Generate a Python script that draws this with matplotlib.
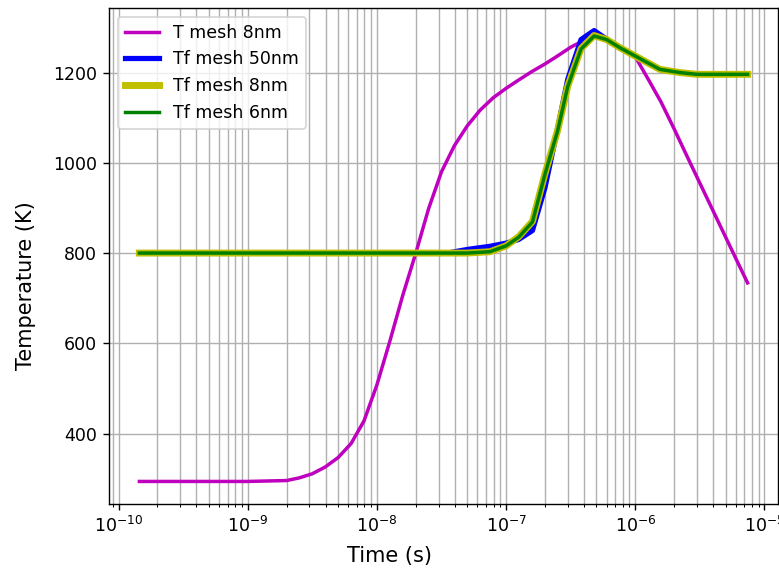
import numpy as np
import matplotlib
matplotlib.use('Agg')
import matplotlib.pyplot as plt

# temperature at the surface, 8nm mesh
t_T = [1.45e-10, 1e-9, 2.0e-9, 2.51e-9, 3.16e-9, 3.98e-9, 5.01e-9, 6.31e-9, 7.94e-9,
       1e-8, 1.26e-8, 1.58e-8, 2.0e-8, 2.51e-8, 3.16e-8, 3.98e-8, 5.01e-8, 6.31e-8,
       7.94e-8, 1e-7, 1.26e-7, 1.58e-7, 2.0e-7, 2.51e-7, 3.16e-7, 3.98e-7, 5.01e-7,
       6.31e-7, 7.94e-7, 1e-6, 1.26e-6, 1.58e-6, 2.0e-6, 2.51e-6, 3.16e-6, 3.98e-6,
       5.01e-6, 6.31e-6, 7.4e-6]
T_8nm = [294, 294, 296, 302, 311, 326, 347, 378, 428,
         508, 605, 705, 800, 898, 980, 1038, 1082, 1117,
         1144, 1165, 1184, 1202, 1219, 1237, 1256, 1271, 1280,
         1272, 1252, 1235, 1185, 1135, 1075, 1015, 955, 895,
         835, 775, 734]

# fictive temperature for three mesh sizes
t_Tf = [1.45e-10, 3.5e-8, 5e-8, 7.5e-8, 1e-7, 1.25e-7, 1.6e-7, 2e-7, 2.5e-7,
        3e-7, 3.8e-7, 4.8e-7, 6e-7, 7.6e-7, 1.15e-6, 1.55e-6, 2.2e-6, 3e-6, 7.4e-6]
Tf_50nm = [800, 800, 808, 815, 822, 830, 850, 945, 1075,
           1185, 1273, 1293, 1274, 1255, 1227, 1207, 1200, 1196, 1196]
Tf_8nm = [800, 800, 800, 803, 816, 836, 870, 976, 1071,
          1170, 1253, 1282, 1273, 1255, 1227, 1207, 1200, 1196, 1196]
Tf_6nm = [800, 800, 800, 803, 816, 835, 869, 975, 1070,
          1169, 1252, 1281, 1273, 1255, 1227, 1207, 1200, 1196, 1196]

fig = plt.figure(figsize=(779/125, 572/125), dpi=125)
ax = fig.add_axes([0.1399, 0.1189, 0.8588, 0.8671])

ax.plot(t_T, T_8nm, 'm', lw=2, label='T mesh 8nm')
ax.plot(t_Tf, Tf_50nm, 'b', lw=3, label='Tf mesh 50nm')
ax.plot(t_Tf, Tf_8nm, 'y', lw=4, label='Tf mesh 8nm')
ax.plot(t_Tf, Tf_6nm, 'g', lw=2, label='Tf mesh 6nm')

ax.set_xscale('log')
fig.supxlabel('Time (s)')
fig.supylabel('Temperature (K)')
ax.grid(True, which='both')
ax.legend(loc='upper left')

plt.savefig('out.png', dpi=125)
